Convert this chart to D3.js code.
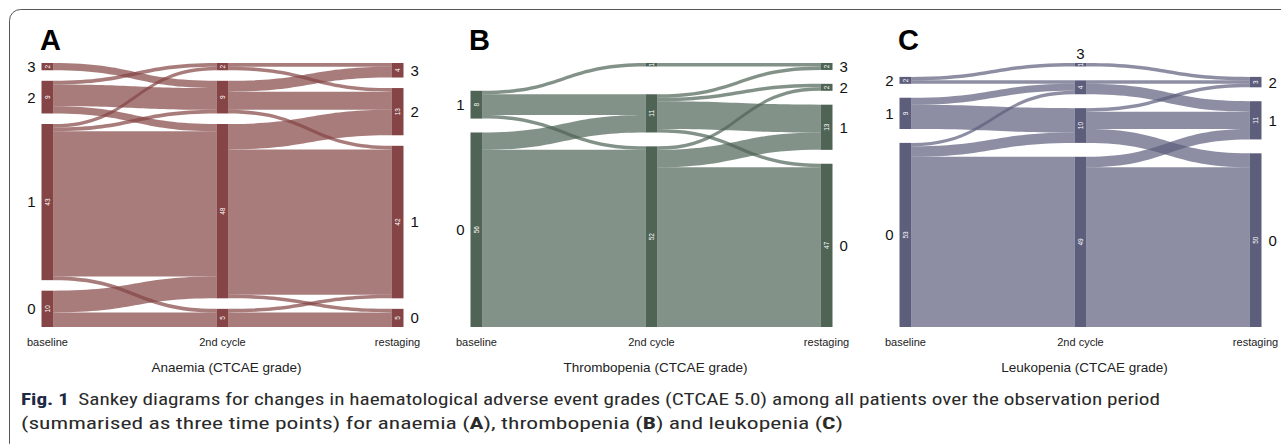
<!DOCTYPE html>
<html>
<head>
<meta charset="utf-8">
<script src="https://cdn.jsdelivr.net/npm/d3@7"></script>
<style>
  body { margin: 0; background: #fff; }
  svg { display: block; font-family: "Liberation Sans", Arial, sans-serif; }
</style>
</head>
<body>
<div id="chart"></div>
<script>
// categories
const timepoints = ["baseline", "2nd cycle", "restaging"];
const grades = [0, 1, 2, 3];
const panelLetters = ["A", "B", "C"];
const panelTitles = ["Anaemia (CTCAE grade)", "Thrombopenia (CTCAE grade)", "Leukopenia (CTCAE grade)"];

// flows as [from grade, to grade, patients]
const anaemiaBaseTo2nd = [[3,2,2],[2,3,1],[2,2,6],[2,1,2],[1,3,1],[1,2,1],[1,1,40],[1,0,1],[0,1,6],[0,0,4]];
const anaemia2ndToRest = [[3,3,1],[3,2,1],[2,3,3],[2,2,5],[2,1,1],[1,2,7],[1,1,40],[1,0,1],[0,1,1],[0,0,4]];
const thromboBaseTo2nd = [[1,3,1],[1,1,6],[1,0,1],[0,1,5],[0,0,51]];
const thrombo2ndToRest = [[3,3,1],[1,3,1],[1,2,1],[1,1,8],[1,0,1],[0,2,1],[0,1,5],[0,0,46]];
const leukoBaseTo2nd = [[2,3,1],[2,2,1],[1,2,2],[1,1,7],[0,2,1],[0,1,3],[0,0,49]];
const leuko2ndToRest = [[3,2,1],[2,2,1],[2,1,3],[1,2,1],[1,1,5],[1,0,4],[0,1,3],[0,0,46]];

const panelFlows = [
  [anaemiaBaseTo2nd, anaemia2ndToRest],
  [thromboBaseTo2nd, thrombo2ndToRest],
  [leukoBaseTo2nd, leuko2ndToRest]
];

// look
const nodeColors = ["#854445", "#4f6455", "#5c5e7c"];
const gapUnits = [2.9, 4, 4];

const width = 1281, height = 444;
const nodeW = 12;

const svg = d3.select("#chart").append("svg")
  .attr("width", width).attr("height", height);

// outer frame
svg.append("rect")
  .attr("x", 9.5).attr("y", 9.5)
  .attr("width", 1290).attr("height", 445)
  .attr("rx", 11)
  .attr("fill", "none").attr("stroke", "#555").attr("stroke-width", 1);

const panelX = d3.scalePoint().domain(panelLetters).range([0, 858]);
const colX = d3.scalePoint().domain(timepoints).range([47.5, 397.5]);

panelLetters.forEach((letter, p) => {
  const [f1, f2] = panelFlows[p];
  const gap = gapUnits[p];
  const total = d3.sum(f1, d => d[2]);
  const y = d3.scaleLinear().domain([0, total + 3 * gap]).range([327, 63]);
  const color = nodeColors[p];

  const g = svg.append("g").attr("transform", `translate(${panelX(letter)},0)`);

  // counts per timepoint and grade
  const counts = [
    grades.map(k => d3.sum(f1.filter(d => d[0] === k), d => d[2])),
    grades.map(k => d3.sum(f1.filter(d => d[1] === k), d => d[2])),
    grades.map(k => d3.sum(f2.filter(d => d[1] === k), d => d[2]))
  ];

  // stacked nodes, bottom up, one gap per grade level
  const nodes = [];
  counts.forEach((cs, t) => {
    let acc = 0;
    grades.forEach((k, i) => {
      const lo = acc + i * gap;
      if (cs[i] > 0) nodes.push({ t, grade: k, n: cs[i], lo, hi: lo + cs[i] });
      acc += cs[i];
    });
  });
  const node = (t, k) => nodes.find(d => d.t === t && d.grade === k);

  // ribbons
  const links = [];
  [f1, f2].forEach((fl, t) => {
    const outUsed = {}, inUsed = {};
    const bySrc = fl.slice().sort((a, b) => d3.descending(a[0], b[0]) || d3.descending(a[1], b[1]));
    bySrc.forEach(d => {
      const s = node(t, d[0]);
      const u = outUsed[d[0]] || 0;
      d.sTop = s.hi - u; d.sBot = s.hi - u - d[2];
      outUsed[d[0]] = u + d[2];
    });
    const byTgt = fl.slice().sort((a, b) => d3.descending(a[1], b[1]) || d3.descending(a[0], b[0]));
    byTgt.forEach(d => {
      const s = node(t + 1, d[1]);
      const u = inUsed[d[1]] || 0;
      d.tTop = s.hi - u; d.tBot = s.hi - u - d[2];
      inUsed[d[1]] = u + d[2];
    });
    fl.forEach(d => links.push({ t, d }));
  });

  g.selectAll("path.flow")
    .data(links)
    .join("path")
    .attr("class", "flow")
    .attr("d", ({ t, d }) => {
      const x0 = colX(timepoints[t]) + nodeW / 2;
      const x1 = colX(timepoints[t + 1]) - nodeW / 2;
      const xm = (x0 + x1) / 2;
      return `M${x0},${y(d.sTop)} C${xm},${y(d.sTop)} ${xm},${y(d.tTop)} ${x1},${y(d.tTop)}` +
        ` L${x1},${y(d.tBot)} C${xm},${y(d.tBot)} ${xm},${y(d.sBot)} ${x0},${y(d.sBot)} Z`;
    })
    .attr("fill", color)
    .attr("fill-opacity", 0.7);

  // nodes
  g.selectAll("rect.node")
    .data(nodes)
    .join("rect")
    .attr("class", "node")
    .attr("x", d => colX(timepoints[d.t]) - nodeW / 2)
    .attr("y", d => y(d.hi))
    .attr("width", nodeW)
    .attr("height", d => y(d.lo) - y(d.hi))
    .attr("fill", color);

  // counts in the nodes
  g.selectAll("text.count")
    .data(nodes)
    .join("text")
    .attr("class", "count")
    .attr("transform", d => `translate(${colX(timepoints[d.t])},${y((d.lo + d.hi) / 2)}) rotate(-90)`)
    .attr("text-anchor", "middle")
    .attr("dy", "0.35em")
    .attr("font-size", 6.5)
    .attr("fill", "#fff")
    .text(d => d.n);

  // grade labels
  const endGrades = new Set(nodes.filter(d => d.t !== 1).map(d => d.grade));
  g.selectAll("text.grade")
    .data(nodes.filter(d => d.t !== 1 || !endGrades.has(d.grade)))
    .join("text")
    .attr("class", "grade")
    .attr("x", d => d.t === 0 ? colX(timepoints[0]) - nodeW / 2 - 6
      : d.t === 2 ? colX(timepoints[2]) + nodeW / 2 + 7 : colX(timepoints[1]))
    .attr("y", d => d.t === 1 ? y(d.hi) - 4 : y((d.lo + d.hi) / 2))
    .attr("dy", d => d.t === 1 ? 0 : "0.36em")
    .attr("text-anchor", d => d.t === 0 ? "end" : d.t === 2 ? "start" : "middle")
    .attr("font-size", 15)
    .attr("fill", "#111")
    .text(d => d.grade);

  // time point labels
  g.selectAll("text.tp")
    .data(timepoints)
    .join("text")
    .attr("class", "tp")
    .attr("x", d => colX(d))
    .attr("y", 346)
    .attr("text-anchor", "middle")
    .attr("font-size", 11)
    .attr("fill", "#222")
    .text(d => d);

  g.append("text")
    .attr("x", colX(timepoints[1]) + 4)
    .attr("y", 372)
    .attr("text-anchor", "middle")
    .attr("font-size", 13.5)
    .attr("fill", "#222")
    .text(panelTitles[p]);

  g.append("text")
    .attr("x", 40)
    .attr("y", 50)
    .attr("font-size", 29)
    .attr("font-weight", "bold")
    .attr("fill", "#000")
    .text(letter);
});

// caption
const capFont = '"Liberation Sans Narrow", "Roboto Condensed", "Open Sans", sans-serif';
const line1 = svg.append("text")
  .attr("x", 21).attr("y", 405)
  .attr("font-family", capFont).attr("font-size", 16).attr("fill", "#2a2a2a")
  .attr("textLength", 1139).attr("lengthAdjust", "spacingAndGlyphs");
line1.append("tspan").attr("font-weight", "bold").attr("fill", "#1d2a44").text("Fig. 1");
line1.append("tspan").text("\u2002Sankey diagrams for changes in haematological adverse event grades (CTCAE 5.0) among all patients over the observation period");

const line2 = svg.append("text")
  .attr("x", 21).attr("y", 429)
  .attr("font-family", capFont).attr("font-size", 16).attr("fill", "#2a2a2a")
  .attr("textLength", 822).attr("lengthAdjust", "spacingAndGlyphs");
const parts2 = [["(summarised as three time points) for anaemia (", false], ["A", true], ["), thrombopenia (", false], ["B", true], [") and leukopenia (", false], ["C", true], [")", false]];
parts2.forEach(([s, b]) => line2.append("tspan").attr("font-weight", b ? "bold" : null).text(s));
</script>
</body>
</html>
